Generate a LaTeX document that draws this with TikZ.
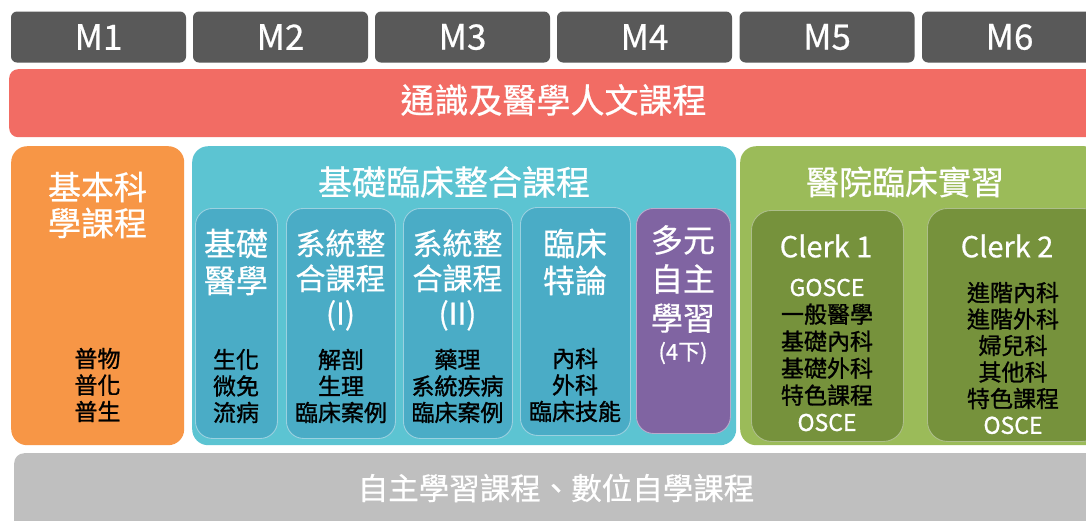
\documentclass[tikz,border=0pt]{standalone}
\usepackage{fontspec}
\setmainfont{Noto Sans CJK TC}
\newfontfamily\medfont{Noto Sans CJK TC}[FakeBold=1.2]
\newfontfamily\titfont{Noto Sans CJK TC}[FakeBold=0.6]
\definecolor{mgray}{HTML}{595959}
\definecolor{cred}{HTML}{F26C64}
\definecolor{corange}{HTML}{F79646}
\definecolor{cteal}{HTML}{5CC4D2}
\definecolor{cteal2}{HTML}{4AACC6}
\definecolor{cpurple}{HTML}{8064A2}
\definecolor{cgreen}{HTML}{9BBB59}
\definecolor{cgreen2}{HTML}{76923C}
\definecolor{cgrey}{HTML}{BFBFBF}
\newcommand{\fs}[2]{\fontsize{#1}{#2}\selectfont}
\begin{document}
\begin{tikzpicture}[x=1pt,y=-1pt,
  mbox/.style={fill=mgray, rounded corners=6pt, minimum width=175pt, minimum height=51pt, inner sep=0pt, text=white, font=\titfont\fs{35}{38}},
  bigbox/.style={rounded corners=16pt, inner sep=0pt, anchor=north west},
  inbox/.style={rounded corners=17pt, inner sep=0pt, anchor=north west, line width=0.9pt},
  wtitle/.style={text=white, align=center, inner sep=0pt},
  btext/.style={text=black, align=center, inner sep=0pt, font=\medfont\fs{23}{26.5}}
]
\useasboundingbox (0,0) rectangle (1086,520);
\clip (0,0) rectangle (1086,520);
\fill[white] (0,0) rectangle (1086,520);
% M header
\node[mbox] (m1) at (98.5,37) {M1};
\node[mbox] (m2) at (280.5,37) {M2};
\node[mbox] (m3) at (462.5,37) {M3};
\node[mbox] (m4) at (644.5,37) {M4};
\node[mbox] (m5) at (827,37) {M5};
\node[mbox] (m6) at (1009.5,37) {M6};
% red bar
\node[bigbox, fill=cred, rounded corners=9pt, minimum width=1100pt, minimum height=68pt] (red) at (9,69) {};
\node[wtitle, font=\titfont\fs{34}{38}] (redt) at (553.5,100) {通識及醫學人文課程};
% orange
\node[bigbox, fill=corange, minimum width=173pt, minimum height=299pt] (orange) at (11,146) {};
\node[wtitle, font=\titfont\fs{33}{36}] (oranget) at (97.5,205) {基本科\\學課程};
\node[btext] (orangeb) at (97.5,385) {普物\\普化\\普生};
% teal
\node[bigbox, fill=cteal, minimum width=544pt, minimum height=299pt] (teal) at (192,146) {};
\node[wtitle, font=\titfont\fs{34}{38}] (tealt) at (454,182) {基礎臨床整合課程};
\node[inbox, fill=cteal2, draw=white!45!cteal2, minimum width=82pt, minimum height=230pt] (b1) at (195,208) {};
\node[inbox, fill=cteal2, draw=white!45!cteal2, minimum width=109pt, minimum height=230pt] (b2) at (286,208) {};
\node[inbox, fill=cteal2, draw=white!45!cteal2, minimum width=109pt, minimum height=230pt] (b3) at (403,208) {};
\node[inbox, fill=cteal2, draw=white!45!cteal2, minimum width=110pt, minimum height=228pt] (b4) at (520,207) {};
\node[inbox, fill=cpurple, draw=white!45!cpurple, minimum width=94pt, minimum height=225pt] (b5) at (636,208) {};
\node[wtitle, font=\titfont\fs{32}{37}] (b1t) at (236,262) {基礎\\醫學};
\node[wtitle, font=\titfont\fs{30}{35}] (b2t) at (340.5,280) {系統整\\合課程\\(I)};
\node[wtitle, font=\titfont\fs{30}{35}] (b3t) at (457.5,280) {系統整\\合課程\\(II)};
\node[wtitle, font=\titfont\fs{32}{37}] (b4t) at (575,262) {臨床\\特論};
\node[wtitle, font=\titfont\fs{32}{39}] (b5t) at (683,279) {多元\\自主\\學習};
\node[wtitle, font=\titfont\fs{22}{24}] (b5s) at (683,353) {(4下)};
\node[btext] (b1b) at (236,386) {生化\\微免\\流病};
\node[btext] (b2b) at (341,386) {解剖\\生理\\臨床案例};
\node[btext] (b3b) at (457.5,386) {藥理\\系統疾病\\臨床案例};
\node[btext] (b4b) at (575,385) {內科\\外科\\臨床技能};
% green
\node[bigbox, fill=cgreen, minimum width=360pt, minimum height=299pt] (green) at (740,146) {};
\node[wtitle, font=\titfont\fs{33}{38}] (greent) at (905,182) {醫院臨床實習};
\node[inbox, fill=cgreen2, draw=white!40!cgreen2, rounded corners=20pt, minimum width=152pt, minimum height=231pt] (c1) at (751,210) {};
\node[inbox, fill=cgreen2, draw=white!40!cgreen2, rounded corners=20pt, minimum width=175pt, minimum height=233pt] (c2) at (927,208) {};
\node[wtitle, font=\titfont\fs{29}{32}] (c1t) at (826,246) {Clerk 1};
\node[wtitle, font=\titfont\fs{29}{32}] (c2t) at (1007,246) {Clerk 2};
\node[inner sep=0pt, align=center, font=\medfont\fs{23}{27}] (c1b) at (827,355) {\textcolor{white}{GOSCE}\\一般醫學\\基礎內科\\基礎外科\\特色課程\\\textcolor{white}{OSCE}};
\node[inner sep=0pt, align=center, font=\medfont\fs{23}{26.5}] (c2b) at (1013,358) {進階內科\\進階外科\\婦兒科\\其他科\\特色課程\\\textcolor{white}{OSCE}};
% grey bar
\node[bigbox, fill=cgrey, rounded corners=10pt, minimum width=1090pt, minimum height=80pt] (grey) at (14,453) {};
\node[wtitle, font=\titfont\fs{30.5}{34}] (greyt) at (556,488) {自主學習課程、數位自學課程};
\end{tikzpicture}
\end{document}
